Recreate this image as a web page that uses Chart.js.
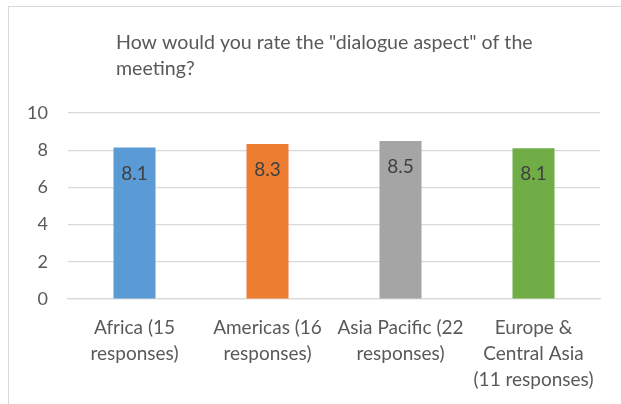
<!DOCTYPE html>
<html>
<head>
<meta charset="utf-8">
<script src="https://cdn.jsdelivr.net/npm/chart.js@4/dist/chart.umd.min.js"></script>
<style>
  html, body { margin: 0; padding: 0; background: #fff; }
  #wrap { position: relative; width: 621px; height: 404px; overflow: hidden; }
  #frame { position: absolute; left: 8px; top: 6px; width: 700px; height: 500px; border: 1px solid #d9d9d9; }
  canvas { position: absolute; left: 0; top: 0; }
</style>
</head>
<body>
<div id="wrap">
  <div id="frame"></div>
  <canvas id="ratingChart" width="621" height="404"></canvas>
</div>
<script>
var regions = [
    ['Africa (15', 'responses)'],
    ['Americas (16', 'responses)'],
    ['Asia Pacific (22', 'responses)'],
    ['Europe &', 'Central Asia', '(11 responses)']
];
var ratings = [8.14, 8.33, 8.49, 8.1];
var barColors = ['#5b9bd5', '#ed7d31', '#a5a5a5', '#70ad47'];
var yTicks = [0, 2, 4, 6, 8, 10];
var titleLines = ['How would you rate the "dialogue aspect" of the', 'meeting?'];

var FONT = 'Lato, "Open Sans", sans-serif';

// titulo y etiquetas de valor dentro de las barras
var extras = {
    id: 'extras',
    afterDatasetsDraw: function (chart) {
        var ctx = chart.ctx;
        ctx.save();
        ctx.font = '19.6px ' + FONT;
        ctx.fillStyle = '#595959';
        ctx.textAlign = 'left';
        ctx.textBaseline = 'middle';
        titleLines.forEach(function (line, i) {
            ctx.fillText(line, 116, 43 + i * 26);
        });
        ctx.font = '19px ' + FONT;
        ctx.fillStyle = '#404040';
        ctx.textAlign = 'center';
        chart.getDatasetMeta(0).data.forEach(function (bar, i) {
            ctx.fillText(ratings[i].toFixed(1), bar.x, bar.y + 26);
        });
        ctx.restore();
    }
};

document.addEventListener('DOMContentLoaded', function () {
    var ctx = document.getElementById('ratingChart').getContext('2d');
    new Chart(ctx, {
        type: 'bar',
        data: {
            labels: regions,
            datasets: [{
                data: ratings,
                backgroundColor: barColors,
                borderWidth: 0,
                barPercentage: 0.316,
                categoryPercentage: 1
            }]
        },
        options: {
            responsive: false,
            animation: false,
            layout: { padding: { left: 0, right: 21, top: 113, bottom: 0 } },
            plugins: {
                legend: { display: false },
                tooltip: { enabled: false }
            },
            scales: {
                y: {
                    min: 0,
                    max: 10,
                    afterBuildTicks: function (axis) {
                        axis.ticks = yTicks.map(function (v) { return { value: v }; });
                    },
                    afterFit: function (axis) { axis.width = 68; },
                    border: { display: false },
                    grid: { color: '#d9d9d9', lineWidth: 1.2, drawTicks: false },
                    ticks: {
                        color: '#595959',
                        font: { family: FONT, size: 18 },
                        padding: 20
                    }
                },
                x: {
                    afterFit: function (axis) { axis.height = 105; },
                    border: { color: '#d9d9d9', width: 1.2 },
                    grid: { display: false, drawTicks: false },
                    ticks: {
                        color: '#595959',
                        font: { family: FONT, size: 19, lineHeight: 1.37 },
                        padding: 16,
                        maxRotation: 0,
                        autoSkip: false
                    }
                }
            }
        },
        plugins: [extras]
    });
});
</script>
</body>
</html>
